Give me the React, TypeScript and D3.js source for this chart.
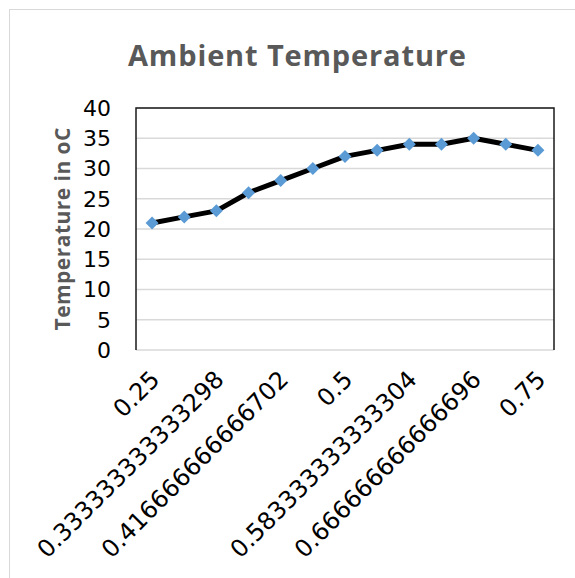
import * as d3 from "d3";
import React, { useRef, useEffect } from "react";

// hourly readings, time as fraction of a day
const hours = [0.25, 0.291666666666667, 0.333333333333298, 0.375, 0.416666666666702, 0.458333333333333, 0.5, 0.541666666666667, 0.583333333333304, 0.625, 0.666666666666696, 0.708333333333333, 0.75];
const tickLabels = ["0.25", "", "0.333333333333298", "", "0.416666666666702", "", "0.5", "", "0.583333333333304", "", "0.666666666666696", "", "0.75"];
const temps = [21, 22, 23, 26, 28, 30, 32, 33, 34, 34, 35, 34, 33];
const yTicks = [0, 5, 10, 15, 20, 25, 30, 35, 40];

const W = 575;
const H = 578;
var margin = { top: 108, right: 21, bottom: 228, left: 136 };

const drawChart = (ref: any) => {
  const svg = d3.select(ref.current);
  svg.selectAll("*").remove();
  const innerW = W - margin.left - margin.right;
  const innerH = H - margin.top - margin.bottom;

  // chart area outline
  svg
    .append("rect")
    .attr("x", 9.5)
    .attr("y", 9.5)
    .attr("width", 700)
    .attr("height", 700)
    .attr("fill", "#fff")
    .attr("stroke", "#d9d9d9")
    .attr("stroke-width", 1);

  svg
    .append("text")
    .attr("x", 297)
    .attr("y", 66)
    .attr("text-anchor", "middle")
    .attr("font-family", "Open Sans")
    .attr("font-weight", "bold")
    .attr("font-size", 29)
    .attr("fill", "#595959")
    .attr("textLength", 338)
    .text("Ambient Temperature");

  const g = svg
    .append("g")
    .attr("transform", "translate(" + margin.left + "," + margin.top + ")");

  const x = d3
    .scalePoint<number>()
    .domain(d3.range(hours.length))
    .range([0, innerW])
    .padding(0.5);
  const y = d3.scaleLinear().domain([0, 40]).range([innerH, 0]);

  // gridlines
  g.selectAll(".grid")
    .data(yTicks)
    .enter()
    .append("line")
    .attr("x1", 0)
    .attr("x2", innerW)
    .attr("y1", (d: number) => y(d))
    .attr("y2", (d: number) => y(d))
    .attr("stroke", "#d9d9d9")
    .attr("stroke-width", 1.5);

  // plot area border (left, top, right)
  g.append("path")
    .attr("d", "M0," + innerH + "V0H" + innerW + "V" + innerH)
    .attr("fill", "none")
    .attr("stroke", "#1a1a1a")
    .attr("stroke-width", 1.5);

  // y tick labels
  g.selectAll(".ylab")
    .data(yTicks)
    .enter()
    .append("text")
    .attr("x", -25)
    .attr("y", (d: number) => y(d))
    .attr("dy", "0.36em")
    .attr("text-anchor", "end")
    .attr("font-family", "DejaVu Sans")
    .attr("font-size", 22)
    .attr("fill", "#000")
    .text((d: number) => d);

  // x tick labels, rotated
  g.selectAll(".xlab")
    .data(tickLabels)
    .enter()
    .append("text")
    .attr("transform", (_d: string, i: number) => "translate(" + ((x(i) as number) + 9) + "," + (innerH + 31) + ") rotate(-45)")
    .attr("text-anchor", "end")
    .attr("font-family", "DejaVu Sans")
    .attr("font-size", 24)
    .attr("fill", "#000")
    .text((d: string) => d);

  // y axis title
  svg
    .append("text")
    .attr("transform", "translate(70," + (margin.top + innerH / 2) + ") rotate(-90)")
    .attr("text-anchor", "middle")
    .attr("font-family", "Open Sans")
    .attr("font-weight", "bold")
    .attr("font-size", 21)
    .attr("fill", "#595959")
    .attr("textLength", 203)
    .text("Temperature in oC");

  const line = d3
    .line<number>()
    .x((_d: number, i: number) => x(i) as number)
    .y((d: number) => y(d));

  g.append("path")
    .datum(temps)
    .attr("d", line)
    .attr("fill", "none")
    .attr("stroke", "#000")
    .attr("stroke-width", 5)
    .attr("stroke-linejoin", "round");

  // diamond markers
  g.selectAll(".pt")
    .data(temps)
    .enter()
    .append("path")
    .attr("d", "M0,-6.5L6.5,0L0,6.5L-6.5,0Z")
    .attr("transform", (d: number, i: number) => "translate(" + x(i) + "," + y(d) + ")")
    .attr("fill", "#5b9bd5");
};

function App() {
  const ref = useRef<any>();
  useEffect(() => {
    drawChart(ref);
  }, []);
  return (
    <svg
      ref={ref}
      width={W}
      height={H}
      style={{ position: "absolute", left: 0, top: 0, background: "#fff" }}
    ></svg>
  );
}

export default App;
